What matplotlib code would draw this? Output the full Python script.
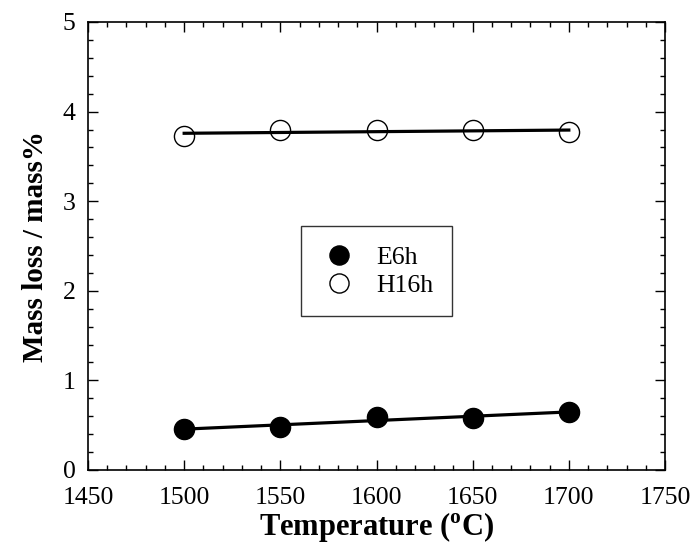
import numpy as np
import matplotlib
matplotlib.use("Agg")
import matplotlib.pyplot as plt
from matplotlib.ticker import MultipleLocator

plt.rcParams["font.family"] = ["Liberation Serif", "DejaVu Serif"]
plt.rcParams["mathtext.fontset"] = "custom"
plt.rcParams["mathtext.rm"] = "Liberation Serif:bold"

# Mass loss vs. temperature for the two samples
temperature = [1500, 1550, 1600, 1650, 1700]
e6h_loss = [0.46, 0.48, 0.59, 0.58, 0.65]
h16h_loss = [3.73, 3.79, 3.79, 3.80, 3.77]

fig = plt.figure(figsize=(6.96, 5.48), dpi=100)
ax = fig.add_axes([88 / 696, 78 / 548, 577 / 696, 448 / 548])

t = np.array(temperature)
for loss, face, name in [(e6h_loss, "black", "E6h"), (h16h_loss, "none", "H16h")]:
    # straight-line fit through each series
    k, b = np.polyfit(t, loss, 1)
    ax.plot(t, k * t + b, color="black", lw=2.3, zorder=2)
    ax.plot(t, loss, "o", ms=14.5, mfc=face, mec="black", mew=1.0,
            label=name, zorder=3)

ax.set_xlim(1450, 1750)
ax.set_ylim(0, 5)
ax.xaxis.set_major_locator(MultipleLocator(50))
ax.xaxis.set_minor_locator(MultipleLocator(10))
ax.yaxis.set_major_locator(MultipleLocator(1))
ax.yaxis.set_minor_locator(MultipleLocator(0.2))
ax.tick_params(which="both", direction="in", top=True, right=True,
               labelsize=18.5, width=1)
ax.tick_params(which="major", length=7)
ax.tick_params(which="minor", length=3.5)
ax.tick_params(axis="x", which="major", pad=12)
ax.tick_params(axis="y", which="major", pad=9)
for s in ax.spines.values():
    s.set_linewidth(1.2)

ax.set_xlabel(r"Temperature ($^{\rm o}$C)", fontsize=22, fontweight="bold",
              labelpad=1)
ax.set_ylabel("Mass loss / mass%", fontsize=21, fontweight="bold", labelpad=10)

leg = ax.legend(loc="upper left", bbox_to_anchor=(0.37, 0.544),
                markerscale=0.95, fontsize=18.5, frameon=True, fancybox=False,
                edgecolor="black", borderpad=0.75, handlelength=1.4,
                handletextpad=0.75, labelspacing=0.2, borderaxespad=0)
leg.get_frame().set_linewidth(1.0)

fig.savefig("out.png", dpi=100)
